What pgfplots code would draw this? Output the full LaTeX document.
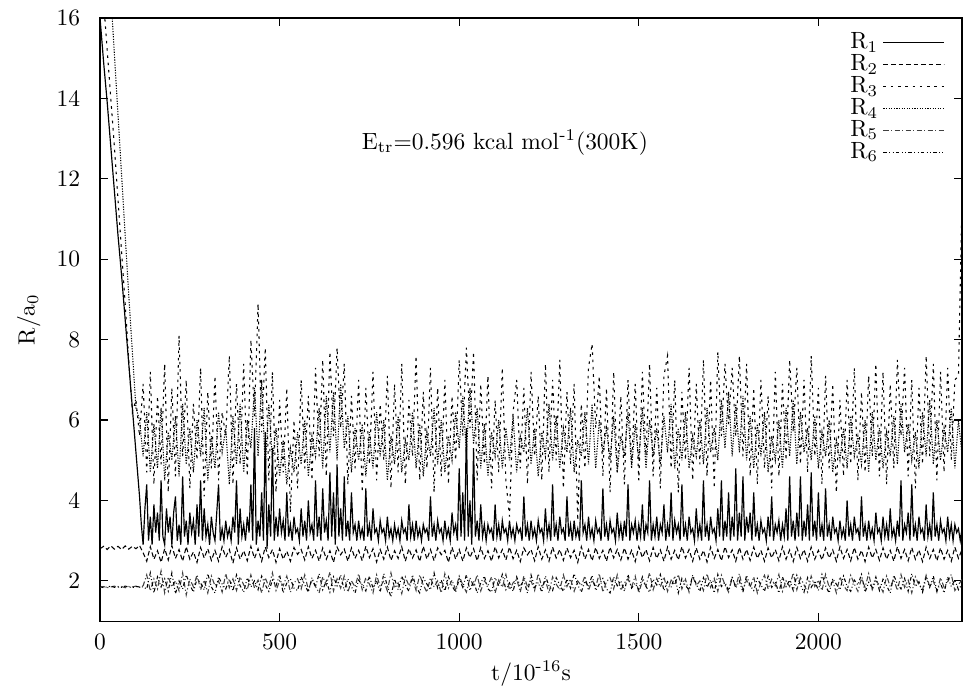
\documentclass[border=0pt]{standalone}
\usepackage{pgfplots}
\pgfplotsset{compat=1.18}
\usepackage{pgfplotstable}
\usetikzlibrary{calc}

\pgfplotstableread{
t R2 R3 R4 R5 R6
0 2.80 17.6 21.0 1.84 1.86
10 2.86 16.4 19.6 1.86 1.83
20 2.78 15.2 18.1 1.83 1.85
30 2.87 14.0 16.6 1.85 1.87
40 2.79 12.8 15.1 1.87 1.84
50 2.86 11.5 13.6 1.84 1.86
60 2.78 10.2 12.1 1.86 1.84
70 2.87 8.9 10.6 1.83 1.87
80 2.79 7.5 9.1 1.86 1.85
90 2.86 6.2 7.7 1.85 1.83
100 2.80 6.5 6.3 1.87 1.86
110 2.88 5.6 6.0 1.84 1.85
120 2.70 6.9 5.1 1.88 1.85
130 2.49 4.7 6.2 2.15 1.80
140 2.85 7.2 4.7 1.75 2.20
150 2.54 4.4 5.9 2.05 1.70
160 2.75 6.6 4.8 1.80 2.10
170 2.46 4.9 6.3 2.25 1.85
180 2.80 7.4 4.5 1.70 2.05
190 2.52 4.2 5.7 2.10 1.75
200 2.88 6.8 5.0 1.85 2.20
210 2.56 4.6 6.1 2.00 1.68
220 2.78 8.1 4.6 1.75 2.00
230 2.49 5.1 6.4 2.20 1.80
240 2.85 7.0 4.9 1.65 2.15
250 2.54 4.3 5.8 2.05 1.90
260 2.72 6.4 4.7 1.85 1.72
270 2.46 5.0 6.0 2.15 2.05
280 2.83 7.3 5.1 1.78 1.95
290 2.57 4.1 6.3 2.02 1.78
300 2.80 6.7 4.5 1.70 2.18
310 2.51 4.8 5.6 2.12 1.85
320 2.76 7.1 4.8 1.88 1.70
330 2.49 4.5 6.2 2.00 2.10
340 2.85 6.2 5.2 1.72 1.92
350 2.59 5.6 5.8 2.18 1.80
360 2.78 7.6 4.4 1.83 2.05
370 2.44 4.4 6.1 2.05 1.75
380 2.82 6.9 4.9 1.76 2.15
390 2.54 4.9 6.4 2.10 1.88
400 2.75 7.4 4.7 1.90 1.72
410 2.50 4.6 6.0 1.78 2.08
420 2.86 8.0 5.3 2.15 1.85
430 2.56 6.1 6.8 1.82 2.00
440 2.80 8.9 5.1 2.02 1.78
450 2.49 5.7 7.0 1.70 2.12
460 2.84 7.8 4.8 2.08 1.90
470 2.58 4.5 6.4 1.85 1.74
480 2.78 7.2 5.0 2.20 2.02
490 2.46 4.2 5.8 1.76 1.88
500 2.80 6.5 4.6 2.00 2.15
510 2.54 4.7 5.5 1.88 1.70
520 2.74 6.8 4.4 2.12 1.95
530 2.49 3.7 5.3 1.72 2.05
540 2.83 6.0 4.7 1.95 1.82
550 2.66 4.3 5.7 2.05 1.76
560 2.78 7.0 4.9 1.80 2.10
570 2.52 4.8 6.0 2.15 1.90
580 2.85 6.6 4.6 1.78 1.72
590 2.56 4.5 5.6 2.02 2.08
600 2.76 7.3 5.1 1.86 1.85
610 2.49 5.1 6.3 1.70 2.18
620 2.82 7.5 4.8 2.10 1.78
630 2.54 4.6 6.6 1.90 2.00
640 2.75 7.7 5.2 2.22 1.72
650 2.46 5.6 6.7 1.75 2.10
660 2.84 7.8 5.0 2.05 1.88
670 2.65 5.8 6.9 1.82 2.15
680 2.79 7.4 5.3 2.12 1.76
690 2.49 4.4 6.1 1.72 2.05
700 2.82 6.6 4.7 2.00 1.85
710 2.56 4.8 5.8 1.85 1.70
720 2.76 7.0 5.0 2.18 2.02
730 2.50 4.2 5.9 1.78 1.90
740 2.86 6.8 4.6 2.08 1.75
750 2.58 4.9 5.7 1.92 2.12
760 2.80 7.2 4.8 1.70 1.82
770 2.47 4.5 6.2 2.15 2.00
780 2.78 6.4 5.1 1.85 1.72
790 2.54 5.0 6.0 2.00 2.18
800 2.84 7.1 4.5 1.75 1.88
810 2.51 4.3 5.6 2.20 1.60
820 2.75 6.9 4.9 1.82 2.05
830 2.56 4.7 6.1 1.95 1.78
840 2.85 7.4 4.7 1.68 2.12
850 2.49 4.4 5.5 2.10 1.90
860 2.80 6.5 5.0 1.88 1.74
870 2.57 5.1 6.2 2.05 2.15
880 2.77 7.6 4.8 1.76 1.85
890 2.48 4.5 5.9 2.15 1.70
900 2.86 6.7 4.6 1.90 2.08
910 2.54 4.8 5.7 1.72 1.92
920 2.78 7.3 5.1 2.08 1.78
930 2.50 4.2 6.3 1.85 2.20
940 2.82 6.8 4.9 2.00 1.82
950 2.65 4.6 6.0 1.70 2.02
960 2.76 7.0 4.7 2.18 1.75
970 2.46 4.4 5.6 1.82 2.10
980 2.84 6.6 5.0 2.02 1.88
990 2.54 5.0 6.2 1.78 1.72
1000 2.78 7.5 5.3 2.12 2.05
1010 2.49 5.6 6.6 1.90 1.84
1020 2.82 7.8 5.2 1.72 2.15
1030 2.58 5.8 6.8 2.08 1.76
1040 2.80 7.7 5.4 1.86 2.00
1050 2.50 4.5 6.3 2.15 1.70
1060 2.83 6.9 4.8 1.75 1.95
1070 2.56 4.9 5.9 2.00 2.12
1080 2.75 7.1 4.6 1.88 1.80
1090 2.49 4.3 5.7 2.10 1.72
1100 2.85 6.5 5.1 1.70 2.08
1110 2.57 4.7 6.0 2.02 1.88
1120 2.78 7.3 4.8 1.84 2.16
1130 2.52 4.5 5.8 2.16 1.78
1140 2.84 3.6 5.0 1.78 1.95
1150 2.55 6.2 6.1 1.95 1.74
1160 2.76 7.0 4.7 2.05 2.10
1170 2.48 4.8 5.6 1.72 1.86
1180 2.82 6.8 5.2 2.12 2.02
1190 2.65 4.4 6.3 1.86 1.70
1200 2.78 7.2 4.9 2.00 2.15
1210 2.50 5.1 5.8 1.76 1.84
1220 2.85 6.6 4.6 2.18 1.96
1230 2.54 4.5 5.7 1.84 1.72
1240 2.77 7.4 5.1 2.02 2.12
1250 2.49 4.7 6.4 1.70 1.88
1260 2.84 7.0 5.0 2.10 1.76
1270 2.57 5.0 6.1 1.92 2.08
1280 2.78 7.5 4.8 1.78 1.90
1290 2.51 4.3 5.8 2.15 1.74
1300 2.82 6.7 5.2 1.86 2.05
1310 2.58 4.9 6.3 2.05 1.82
1320 2.76 6.9 4.7 1.74 2.18
1330 2.46 3.5 5.5 2.00 1.90
1340 2.85 6.4 5.1 1.88 1.72
1350 2.54 4.8 6.2 2.12 2.00
1360 2.78 7.3 4.9 1.76 1.86
1370 2.50 7.9 6.4 2.02 2.14
1380 2.83 5.8 4.8 1.85 1.76
1390 2.56 7.1 6.0 2.18 1.92
1400 2.76 4.6 5.2 1.72 2.06
1410 2.49 6.8 5.8 1.98 1.80
1420 2.84 4.2 5.0 2.08 1.70
1430 2.57 7.2 6.1 1.80 2.10
1440 2.78 4.7 4.7 2.15 1.88
1450 2.52 6.6 5.6 1.76 2.00
1460 2.82 4.4 5.1 1.95 1.74
1470 2.54 7.0 6.2 2.05 2.16
1480 2.76 4.9 4.8 1.84 1.82
1490 2.48 6.9 5.9 2.12 1.94
1500 2.85 4.5 5.0 1.70 1.78
1510 2.58 7.2 6.3 2.00 2.10
1520 2.78 5.1 4.8 1.88 1.86
1530 2.50 7.4 6.0 2.20 1.72
1540 2.83 4.6 5.1 1.78 2.04
1550 2.56 6.8 5.8 2.06 1.90
1560 2.77 4.3 4.9 1.85 2.16
1570 2.49 7.1 6.1 2.10 1.76
1580 2.84 7.6 5.2 1.74 1.98
1590 2.54 4.8 6.4 2.02 1.84
1600 2.76 7.0 4.8 1.90 2.12
1610 2.52 4.2 5.8 2.16 1.70
1620 2.85 6.7 5.0 1.80 2.06
1630 2.57 5.0 6.2 2.04 1.88
1640 2.78 7.3 4.8 1.72 1.78
1650 2.49 4.5 5.6 2.12 2.14
1660 2.82 6.9 5.1 1.88 1.92
1670 2.54 4.9 6.0 2.00 1.74
1680 2.76 7.5 4.9 1.76 2.08
1690 2.47 4.6 6.3 2.18 1.84
1700 2.84 7.0 5.2 1.84 2.02
1710 2.56 4.3 5.8 2.06 1.70
1720 2.78 7.7 5.0 1.74 2.16
1730 2.50 5.6 6.5 2.14 1.86
1740 2.85 7.4 5.3 1.90 1.96
1750 2.58 5.9 6.7 1.72 1.76
1760 2.77 7.3 5.1 2.08 2.10
1770 2.49 5.6 6.4 1.86 1.82
1780 2.83 7.6 5.2 2.18 2.00
1790 2.54 5.1 6.6 1.78 1.72
1800 2.78 7.4 5.0 2.02 2.14
1810 2.51 4.6 6.1 1.84 1.88
1820 2.84 6.8 4.8 2.10 1.76
1830 2.56 4.4 5.9 1.70 2.06
1840 2.76 7.0 5.1 1.96 1.90
1850 2.49 4.8 6.2 2.14 1.74
1860 2.82 6.6 4.7 1.80 2.12
1870 2.57 4.3 5.6 2.04 1.84
1880 2.78 7.2 5.0 1.88 1.98
1890 2.50 4.6 6.0 2.16 1.70
1900 2.85 6.9 4.8 1.74 2.10
1910 2.54 5.0 6.3 2.00 1.86
1920 2.77 7.5 5.1 1.86 2.02
1930 2.48 5.7 6.5 2.20 1.76
1940 2.83 7.3 4.9 1.78 2.14
1950 2.56 4.9 6.2 2.08 1.90
1960 2.78 7.0 5.2 1.90 1.72
1970 2.49 4.7 5.8 1.72 2.08
1980 2.84 7.6 5.0 2.12 1.84
1990 2.54 5.1 6.1 1.86 2.00
2000 2.76 6.8 4.8 2.02 1.76
2010 2.52 4.4 5.7 1.76 2.16
2020 2.82 7.1 5.1 2.16 1.88
2030 2.57 4.8 6.0 1.84 1.70
2040 2.77 6.9 4.7 2.00 2.06
2050 2.49 4.2 5.5 1.70 1.92
2060 2.85 6.5 5.0 2.10 1.78
2070 2.56 4.6 5.8 1.88 2.12
2080 2.78 7.0 4.8 1.76 1.86
2090 2.50 4.9 6.1 2.14 1.74
2100 2.83 7.3 5.1 1.92 2.02
2110 2.54 4.5 5.6 1.74 1.90
2120 2.76 6.7 4.9 2.06 2.16
2130 2.48 4.7 6.0 1.84 1.72
2140 2.84 7.1 4.7 2.18 1.96
2150 2.57 5.1 6.2 1.78 1.84
2160 2.78 7.4 5.0 2.00 2.10
2170 2.51 4.6 5.8 1.90 1.76
2180 2.82 7.2 4.8 1.72 2.04
2190 2.54 4.4 5.7 2.12 1.88
2200 2.76 6.9 5.1 1.86 1.70
2210 2.49 4.8 6.1 2.04 2.14
2220 2.85 7.5 4.9 1.76 1.92
2230 2.56 5.6 6.4 2.16 1.80
2240 2.78 7.3 5.2 1.84 2.06
2250 2.50 4.6 5.9 2.02 1.74
2260 2.83 7.0 5.0 1.70 2.18
2270 2.54 4.3 5.7 2.10 1.86
2280 2.77 6.8 4.8 1.90 1.98
2290 2.48 4.9 6.2 1.78 1.72
2300 2.84 7.6 5.1 2.14 2.08
2310 2.56 5.1 6.5 1.86 1.84
2320 2.78 7.4 4.9 2.00 2.12
2330 2.50 4.5 6.0 1.72 1.76
2340 2.82 7.2 5.0 2.08 1.94
2350 2.54 4.7 5.8 1.84 1.70
2360 2.76 7.3 5.2 1.98 2.10
2370 2.49 5.0 6.3 2.16 1.86
2380 2.84 7.0 4.8 1.76 2.02
2390 2.56 7.1 6.0 1.90 1.78
2400 2.78 11.6 5.1 2.04 1.92
}\datatable

\begin{document}
\begin{tikzpicture}
\begin{axis}[
  scale only axis,
  width=367.1pt, height=256.8pt,
  xmin=0, xmax=2400, ymin=1, ymax=16,
  xtick={0,500,1000,1500,2000},
  ytick={2,4,6,8,10,12,14,16},
  /pgf/number format/1000 sep={},
  major tick length=3.5pt,
  axis line style={line width=0.5pt},
  every tick/.style={black, line width=0.5pt},
  xticklabel style={yshift=-2pt},
  yticklabel style={xshift=-5pt},
  xlabel={t/10\textsuperscript{-16}s},
  ylabel={R/a$_0$},
  xlabel style={yshift=2pt},
  legend style={draw=none, fill=none, at={(0.988,0.992)}, anchor=north east,
    legend cell align=right, row sep=-3pt},
  legend plot pos=right,
  legend image code/.code={\draw[#1] (0cm,0cm) -- (0.9cm,0cm);},
  every axis plot/.append style={black, line width=0.45pt},
]
\addplot[line width=0.5pt] coordinates {
(0,16.0) (10,14.9) (20,13.9) (30,12.8) (40,11.7) (50,10.6) (60,9.6) (70,8.5) (80,7.4) (90,6.3) (100,5.2) (110,4.1)
(115,3.4) (120,2.9) (125,3.8) (130,4.4) (135,3.0) (140,3.6) (145,2.9) (150,3.9) (155,3.2) (160,3.7) (165,3.0) (170,4.5)
(175,3.1) (180,2.9) (185,3.8) (190,3.2) (195,3.6) (200,2.9) (205,3.7) (210,4.1) (215,3.0) (220,3.4) (225,2.9) (230,4.6)
(235,3.1) (240,3.5) (245,2.9) (250,3.7) (255,3.2) (260,3.5) (265,2.9) (270,3.9) (275,3.1) (280,4.5) (285,3.0) (290,3.8)
(295,3.1) (300,3.4) (305,2.9) (310,3.6) (315,3.2) (320,3.0) (325,3.7) (330,4.4) (335,3.0) (340,3.3) (345,3.0) (350,3.5)
(355,3.1) (360,3.3) (365,3.0) (370,3.6) (375,3.2) (380,4.5) (385,2.9) (390,3.8) (395,3.1) (400,3.4) (405,3.0) (410,3.6)
(415,3.2) (420,4.4) (425,3.0) (430,5.8) (435,2.9) (440,3.5) (445,3.1) (450,4.2) (455,3.0) (460,5.7) (465,2.8) (470,3.9)
(475,3.1) (480,5.3) (485,3.0) (490,3.6) (495,3.1) (500,3.8) (505,3.2) (510,3.5) (515,3.0) (520,4.2) (525,3.1) (530,3.4)
(535,3.0) (540,3.6) (545,3.2) (550,3.3) (555,3.0) (560,3.8) (565,3.1) (570,3.5) (575,3.0) (580,4.0) (585,3.2) (590,3.4)
(595,3.0) (600,4.5) (605,3.1) (610,3.6) (615,3.0) (620,4.3) (625,3.2) (630,3.5) (635,3.0) (640,4.7) (645,3.1) (650,4.2)
(655,2.9) (660,4.9) (665,3.1) (670,3.8) (675,3.0) (680,4.6) (685,3.1) (690,3.5) (695,3.0) (700,4.2) (705,3.2) (710,3.4)
(715,3.0) (720,3.5) (725,3.1) (730,3.3) (735,3.0) (740,4.3) (745,3.1) (750,3.4) (755,3.0) (760,3.8) (765,3.2) (770,3.3)
(775,3.0) (780,3.5) (785,3.2) (790,3.3) (795,3.0) (800,3.6) (805,3.1) (810,3.3) (815,3.0) (820,3.4) (825,3.1) (830,3.3)
(835,3.0) (840,3.5) (845,3.2) (850,3.3) (855,3.0) (860,3.9) (865,3.1) (870,3.4) (875,3.0) (880,3.5) (885,3.1) (890,3.3)
(895,3.0) (900,3.4) (905,3.2) (910,3.3) (915,3.0) (920,4.1) (925,3.1) (930,3.4) (935,3.0) (940,3.5) (945,3.2) (950,3.3)
(955,3.0) (960,3.5) (965,3.1) (970,3.3) (975,3.0) (980,3.7) (985,3.2) (990,3.4) (995,3.0) (1000,4.8) (1005,3.1) (1010,4.2)
(1015,3.0) (1020,5.8) (1025,3.1) (1030,4.0) (1035,2.9) (1040,5.3) (1045,3.1) (1050,3.5) (1055,3.0) (1060,3.9) (1065,3.1) (1070,3.4)
(1075,3.0) (1080,3.4) (1085,3.2) (1090,3.3) (1095,3.0) (1100,3.9) (1105,3.1) (1110,3.4) (1115,3.0) (1120,3.5) (1125,3.2) (1130,3.3)
(1135,3.0) (1140,3.5) (1145,3.1) (1150,3.3) (1155,3.0) (1160,3.4) (1165,3.2) (1170,3.3) (1175,3.0) (1180,4.1) (1185,3.1) (1190,3.4)
(1195,3.0) (1200,3.5) (1205,3.1) (1210,3.3) (1215,3.0) (1220,3.5) (1225,3.2) (1230,3.3) (1235,3.0) (1240,3.8) (1245,3.1) (1250,3.4)
(1255,3.0) (1260,4.4) (1265,3.1) (1270,3.4) (1275,3.0) (1280,3.6) (1285,3.2) (1290,3.3) (1295,3.0) (1300,4.1) (1305,3.1) (1310,3.4)
(1315,3.0) (1320,3.5) (1325,3.1) (1330,3.3) (1335,3.0) (1340,4.5) (1345,3.2) (1350,3.4) (1355,3.0) (1360,3.6) (1365,3.1) (1370,3.3)
(1375,3.0) (1380,3.5) (1385,3.2) (1390,3.3) (1395,3.0) (1400,4.3) (1405,3.1) (1410,3.4) (1415,3.0) (1420,3.5) (1425,3.2) (1430,3.3)
(1435,3.0) (1440,3.7) (1445,3.1) (1450,3.4) (1455,3.0) (1460,3.5) (1465,3.1) (1470,4.4) (1475,3.0) (1480,3.4) (1485,3.2) (1490,3.5)
(1495,3.0) (1500,3.4) (1505,3.1) (1510,3.9) (1515,3.0) (1520,3.4) (1525,3.2) (1530,4.5) (1535,3.0) (1540,3.4) (1545,3.1) (1550,3.6)
(1555,3.0) (1560,3.4) (1565,3.2) (1570,3.9) (1575,3.0) (1580,3.4) (1585,3.1) (1590,4.2) (1595,3.0) (1600,3.5) (1605,3.2) (1610,3.4)
(1615,3.0) (1620,4.4) (1625,3.1) (1630,3.4) (1635,3.0) (1640,3.6) (1645,3.2) (1650,3.3) (1655,3.0) (1660,3.8) (1665,3.1) (1670,3.4)
(1675,3.0) (1680,4.5) (1685,3.1) (1690,3.4) (1695,3.0) (1700,3.6) (1705,3.2) (1710,3.3) (1715,3.0) (1720,3.8) (1725,3.1) (1730,4.5)
(1735,3.0) (1740,3.5) (1745,3.1) (1750,4.2) (1755,3.0) (1760,3.6) (1765,3.1) (1770,4.8) (1775,3.0) (1780,3.7) (1785,3.1) (1790,4.6)
(1795,3.0) (1800,3.6) (1805,3.2) (1810,3.7) (1815,3.0) (1820,4.2) (1825,3.1) (1830,3.4) (1835,3.0) (1840,3.5) (1845,3.2) (1850,3.3)
(1855,3.0) (1860,3.6) (1865,3.1) (1870,4.1) (1875,3.0) (1880,3.4) (1885,3.2) (1890,3.5) (1895,3.0) (1900,3.4) (1905,3.1) (1910,3.8)
(1915,3.0) (1920,4.6) (1925,3.1) (1930,3.5) (1935,3.0) (1940,3.7) (1945,3.1) (1950,4.6) (1955,3.0) (1960,3.5) (1965,3.1) (1970,3.9)
(1975,3.0) (1980,4.7) (1985,3.1) (1990,3.5) (1995,3.0) (2000,4.2) (2005,3.1) (2010,3.4) (2015,3.0) (2020,4.3) (2025,3.1) (2030,3.4)
(2035,3.0) (2040,3.6) (2045,3.2) (2050,3.3) (2055,3.0) (2060,3.5) (2065,3.1) (2070,3.3) (2075,3.0) (2080,4.0) (2085,3.1) (2090,3.4)
(2095,3.0) (2100,3.6) (2105,3.2) (2110,3.3) (2115,3.0) (2120,4.1) (2125,3.1) (2130,3.4) (2135,3.0) (2140,3.5) (2145,3.1) (2150,3.3)
(2155,3.0) (2160,3.7) (2165,3.2) (2170,3.3) (2175,3.0) (2180,3.6) (2185,3.1) (2190,3.4) (2195,3.0) (2200,3.8) (2205,3.1) (2210,3.3)
(2215,3.0) (2220,3.5) (2225,3.1) (2230,4.5) (2235,3.0) (2240,3.4) (2245,3.2) (2250,3.7) (2255,3.0) (2260,4.4) (2265,3.1) (2270,3.4)
(2275,3.0) (2280,3.6) (2285,3.2) (2290,3.3) (2295,3.0) (2300,3.9) (2305,3.1) (2310,3.4) (2315,3.0) (2320,4.2) (2325,3.1) (2330,3.4)
(2335,3.0) (2340,3.5) (2345,3.2) (2350,3.3) (2355,3.0) (2360,3.6) (2365,3.1) (2370,3.4) (2375,3.0) (2380,3.4) (2385,3.2) (2390,3.3)
(2395,3.0) (2400,3.3)
};
\addlegendentry{R$_1$}
\addplot[dash pattern=on 2pt off 1.2pt] table[x=t, y=R2] {\datatable};
\addlegendentry{R$_2$}
\addplot[dash pattern=on 1.1pt off 2pt] table[x=t, y=R3] {\datatable};
\addlegendentry{R$_3$}
\addplot[dash pattern=on 0.5pt off 0.6pt] table[x=t, y=R4] {\datatable};
\addlegendentry{R$_4$}
\addplot[black!75, dash pattern=on 2.2pt off 1pt on 0.5pt off 1pt] table[x=t, y=R5] {\datatable};
\addlegendentry{R$_5$}
\addplot[dash pattern=on 1.5pt off 1pt on 0.4pt off 1pt on 0.4pt off 1pt] table[x=t, y=R6] {\datatable};
\addlegendentry{R$_6$}
\node at (axis cs:1127,12.9) {E$_{\mathrm{tr}}$=0.596 kcal mol\textsuperscript{-1}(300K)};
\end{axis}
\pgfresetboundingbox
\useasboundingbox ($(current axis.south west)+(-42.6pt,-29pt)$) rectangle ($(current axis.north east)+(0.4pt,7.7pt)$);
\end{tikzpicture}
\end{document}
